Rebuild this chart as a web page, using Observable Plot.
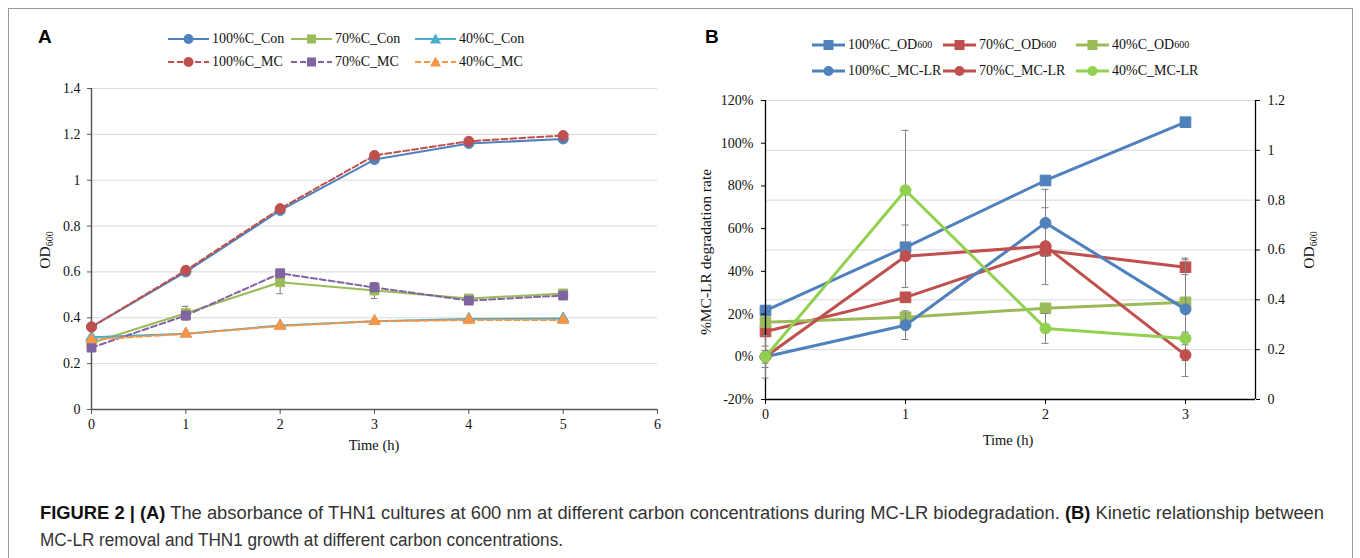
<!DOCTYPE html>
<html><head><meta charset="utf-8">
<script src="https://cdn.jsdelivr.net/npm/d3@7"></script>
<script src="https://cdn.jsdelivr.net/npm/@observablehq/plot@0.6"></script>
<style>
body{margin:0;width:1360px;height:558px;background:#fff;position:relative;overflow:hidden;font-family:"Liberation Serif","Times New Roman",serif;color:#111;}
#frame{position:absolute;left:8px;top:8px;width:1345px;height:600px;border:1px solid #9a9a9a;box-sizing:border-box;}
.abs{position:absolute;}
.panel{position:absolute;font-family:"Liberation Sans",Arial,sans-serif;font-weight:bold;font-size:19px;color:#000;}
.rot{position:absolute;transform:translate(-50%,-50%) rotate(-90deg);white-space:nowrap;font-size:15.5px;}
.xl{position:absolute;transform:translate(-50%,-50%);white-space:nowrap;font-size:14.5px;}
.leg{position:absolute;display:flex;align-items:center;font-size:14px;white-space:nowrap;transform:translateY(-50%);}
.leg svg{display:block;margin-right:3px;}
sub{font-size:10px;vertical-align:-3px;line-height:0;}
.cap{position:absolute;left:40px;white-space:nowrap;font-family:"Liberation Sans",Arial,sans-serif;font-size:18px;color:#333;transform-origin:0 50%;transform:translateY(-50%);}
.cap b{color:#111;}
</style></head>
<body>
<div id="frame"></div>
<div class="panel" style="left:38px;top:26px;">A</div>
<div class="panel" style="left:705px;top:26px;">B</div>
<div id="plotA" class="abs" style="left:0;top:70px;"></div>
<div id="plotBr" class="abs" style="left:690px;top:80px;"></div>
<div id="plotBl" class="abs" style="left:690px;top:80px;"></div>
<div id="legA"></div>
<div id="legB"></div>
<div class="rot" style="left:45px;top:250px;">OD<sub>600</sub></div>
<div class="xl" style="left:374px;top:445px;">Time (h)</div>
<div class="rot" style="left:706px;top:252px;">%MC-LR degradation rate</div>
<div class="rot" style="left:1309px;top:250px;">OD<sub>600</sub></div>
<div class="xl" style="left:1008px;top:440px;">Time (h)</div>
<div class="cap" id="cap1" data-w="1284" style="top:513px;"><b>FIGURE 2 | (A)</b> The absorbance of THN1 cultures at 600 nm at different carbon concentrations during MC-LR biodegradation. <b>(B)</b> Kinetic relationship between</div>
<div class="cap" id="cap2" data-w="523" style="top:540px;">MC-LR removal and THN1 growth at different carbon concentrations.</div>
<script>
// ---------- Panel A data ----------
const timeA = [0, 1, 2, 3, 4, 5];
const con100A = [0.36, 0.60, 0.868, 1.09, 1.16, 1.18];
const mc100A = [0.36, 0.607, 0.876, 1.108, 1.17, 1.195];
const con70A = [0.29, 0.42, 0.555, 0.519, 0.484, 0.506];
const mc70A = [0.27, 0.41, 0.594, 0.532, 0.475, 0.497];
const con40A = [0.315, 0.33, 0.366, 0.385, 0.395, 0.397];
const mc40A = [0.305, 0.33, 0.364, 0.385, 0.39, 0.39];
const errCon70A = [0, 0.03, 0.05, 0.035, 0, 0];
const errMc70A = [0, 0, 0, 0.02, 0, 0];
const xTicksA = [0, 1, 2, 3, 4, 5, 6];
const yTicksA = [0, 0.2, 0.4, 0.6, 0.8, 1, 1.2, 1.4];
const namesA = ["100%C_Con", "70%C_Con", "40%C_Con", "100%C_MC", "70%C_MC", "40%C_MC"];

// ---------- Panel B data ----------
const timeB = [0, 1, 2, 3];
const od100B = [0.357, 0.611, 0.879, 1.113];
const od70B = [0.273, 0.41, 0.598, 0.531];
const od40B = [0.31, 0.33, 0.366, 0.39];
const errOd70B = [0, 0, 0, 0.03];
const errOd40B = [0, 0, 0.018, 0];
const mcLr100B = [0, 14.8, 62.7, 22.2];
const mcLr70B = [0, 47.1, 51.8, 0.8];
const mcLr40B = [0, 78, 13.3, 8.6];
const errMcLr100B = [10, 6.7, 15.7, 24];
const errMcLr70B = [5, 14.6, 18, 10];
const errMcLr40B = [3, 28, 7, 3];
const xTicksB = [0, 1, 2, 3];
const pctTicksB = [-20, 0, 20, 40, 60, 80, 100, 120];
const odTicksB = [0, 0.2, 0.4, 0.6, 0.8, 1, 1.2];
const namesB = ["100%C_OD600", "70%C_OD600", "40%C_OD600", "100%C_MC-LR", "70%C_MC-LR", "40%C_MC-LR"];

const C = {blue:"#4F81BD", red:"#C0504D", green:"#9BBB59", purple:"#8064A2", aqua:"#4BACC6", orange:"#F79646", lime:"#92D050"};
const AX = "#595959", GRID = "#d9d9d9", ERR = "#808080";
const FONT = "Liberation Serif, Times New Roman, serif";
const fmt = d3.format("~g");

const seriesA = [
  {name:namesA[0], v:con100A, color:C.blue, dash:null, sym:"circle", r:5},
  {name:namesA[1], v:con70A, color:C.green, dash:null, sym:"square", r:5, err:errCon70A},
  {name:namesA[2], v:con40A, color:C.aqua, dash:null, sym:"triangle", r:4.2},
  {name:namesA[3], v:mc100A, color:C.red, dash:"6,3", sym:"circle", r:5},
  {name:namesA[4], v:mc70A, color:C.purple, dash:"6,3", sym:"square", r:5, err:errMc70A},
  {name:namesA[5], v:mc40A, color:C.orange, dash:"6,3", sym:"triangle", r:4.2}
];
const rowsOf = (t, v, e) => t.map((x, i) => ({t:x, v:v[i], e:e ? e[i] : 0}));

function seriesMarks(list, t, sw, capHalf) {
  const m = [];
  for (const s of list) {
    const rows = rowsOf(t, s.v, s.err);
    m.push(Plot.line(rows, {x:"t", y:"v", stroke:s.color, strokeWidth:sw, strokeDasharray:s.dash || undefined}));
  }
  for (const s of list) {
    if (!s.err) continue;
    const rows = rowsOf(t, s.v, s.err).filter(d => d.e > 0);
    m.push(Plot.ruleX(rows, {x:"t", y1:d => d.v - d.e, y2:d => d.v + d.e, stroke:ERR, strokeWidth:1}));
    m.push(Plot.ruleY(rows, {y:d => d.v + d.e, x1:d => d.t - capHalf, x2:d => d.t + capHalf, stroke:ERR, strokeWidth:1}));
    m.push(Plot.ruleY(rows, {y:d => d.v - d.e, x1:d => d.t - capHalf, x2:d => d.t + capHalf, stroke:ERR, strokeWidth:1}));
  }
  for (const s of list) {
    m.push(Plot.dot(rowsOf(t, s.v), {x:"t", y:"v", symbol:s.sym, r:s.r, fill:s.color, stroke:s.color, strokeWidth:1}));
  }
  return m;
}

const baseStyle = {fontFamily:FONT, fontSize:"14px", color:"#111", background:"transparent", overflow:"visible"};
const axisText = {fontFamily:FONT, fontSize:14, fill:"#111"};

const plotA = Plot.plot({
  width:680, height:380, marginLeft:91, marginRight:23, marginTop:18, marginBottom:41,
  style:baseStyle,
  x:{domain:[0, 6], axis:null},
  y:{domain:[0, 1.4], axis:null},
  marks:[
    Plot.gridY(yTicksA.filter(d => d > 0), {stroke:GRID, strokeOpacity:1}),
    Plot.ruleY([0], {stroke:AX, strokeWidth:1.5}),
    Plot.ruleX([0], {stroke:AX, strokeWidth:1.5}),
    Plot.axisX(xTicksA, {tickSize:5, tickPadding:5, tickFormat:fmt, label:null, stroke:AX, ...axisText}),
    Plot.axisY(yTicksA, {tickSize:4, tickPadding:7, tickFormat:fmt, label:null, stroke:AX, ...axisText}),
    ...seriesMarks(seriesA, timeA, 2, 0.035)
  ]
});
document.getElementById("plotA").appendChild(plotA);

const seriesBod = [
  {name:namesB[0], v:od100B, color:C.blue, sym:"square", r:6},
  {name:namesB[1], v:od70B, color:C.red, sym:"square", r:6, err:errOd70B},
  {name:namesB[2], v:od40B, color:C.green, sym:"square", r:6, err:errOd40B}
];
const seriesBmc = [
  {name:namesB[3], v:mcLr100B, color:C.blue, sym:"circle", r:5.5, err:errMcLr100B},
  {name:namesB[4], v:mcLr70B, color:C.red, sym:"circle", r:5.5, err:errMcLr70B},
  {name:namesB[5], v:mcLr40B, color:C.lime, sym:"circle", r:5.5, err:errMcLr40B}
];
const dimsB = {width:640, height:360, marginLeft:75, marginRight:75, marginTop:20, marginBottom:41};

const plotBr = Plot.plot({
  ...dimsB, style:baseStyle,
  x:{domain:[0, 3.5], axis:null},
  y:{domain:[0, 1.2], axis:null},
  marks:[
    Plot.gridY(odTicksB.filter(d => d > 0), {stroke:GRID, strokeOpacity:1}),
    Plot.ruleX([3.5], {stroke:"#000", strokeWidth:1.3}),
    Plot.axisY(odTicksB, {anchor:"right", tickSize:4, tickPadding:8, tickFormat:fmt, label:null, stroke:"#000", ...axisText}),
    ...seriesMarks(seriesBod, timeB, 3, 0.025)
  ]
});
document.getElementById("plotBr").appendChild(plotBr);

const plotBl = Plot.plot({
  ...dimsB, style:baseStyle,
  x:{domain:[0, 3.5], axis:null},
  y:{domain:[-20, 120], axis:null},
  marks:[
    Plot.ruleY([-20], {stroke:"#000", strokeWidth:1.3}),
    Plot.ruleX([0], {stroke:"#000", strokeWidth:1.3}),
    Plot.axisX(xTicksB, {tickSize:5, tickPadding:5, tickFormat:fmt, label:null, stroke:"#000", ...axisText}),
    Plot.axisY(pctTicksB, {tickSize:4, tickPadding:8, tickFormat:d => d + "%", label:null, stroke:"#000", ...axisText}),
    ...seriesMarks(seriesBmc, timeB, 3, 0.025)
  ]
});
document.getElementById("plotBl").appendChild(plotBl);

// ---------- Legends (HTML) ----------
function swatch(s, w, sw) {
  const h = 14, cy = 7, cx = w / 2;
  let mk = "";
  if (s.sym === "circle") mk = `<circle cx="${cx}" cy="${cy}" r="${s.lr}" fill="${s.color}"/>`;
  else if (s.sym === "square") mk = `<rect x="${cx - s.lr}" y="${cy - s.lr}" width="${2 * s.lr}" height="${2 * s.lr}" fill="${s.color}"/>`;
  else mk = `<path d="M${cx},${cy - s.lr - 1}L${cx + s.lr + 1},${cy + s.lr}L${cx - s.lr - 1},${cy + s.lr}Z" fill="${s.color}"/>`;
  return `<svg width="${w}" height="${h}"><line x1="0" x2="${w}" y1="${cy}" y2="${cy}" stroke="${s.color}" stroke-width="${sw}" ${s.dash ? `stroke-dasharray="${s.dash}"` : ""}/>${mk}</svg>`;
}
const legAcols = [168, 291, 415], legArows = [39, 62];
document.getElementById("legA").innerHTML = seriesA.map((s, i) => {
  const lr = s.sym === "circle" ? 5 : 4.5;
  return `<div class="leg" style="left:${legAcols[i % 3]}px;top:${legArows[Math.floor(i / 3)]}px;">${swatch({...s, lr}, 41, 2)}${s.name}</div>`;
}).join("");
const legBcols = [812, 943, 1076], legBrows = [45, 71];
const seriesBall = [...seriesBod, ...seriesBmc];
document.getElementById("legB").innerHTML = seriesBall.map((s, i) => {
  const label = s.name.replace("OD600", "OD<sub>600</sub>");
  return `<div class="leg" style="left:${legBcols[i % 3]}px;top:${legBrows[Math.floor(i / 3)]}px;">${swatch({...s, lr:5}, 33, 3)}${label}</div>`;
}).join("");

// fit caption lines to the reference widths
for (const el of document.querySelectorAll(".cap")) {
  const w = el.getBoundingClientRect().width;
  const target = +el.dataset.w;
  el.style.transform = `translateY(-50%) scaleX(${target / w})`;
}
</script>
</body></html>
